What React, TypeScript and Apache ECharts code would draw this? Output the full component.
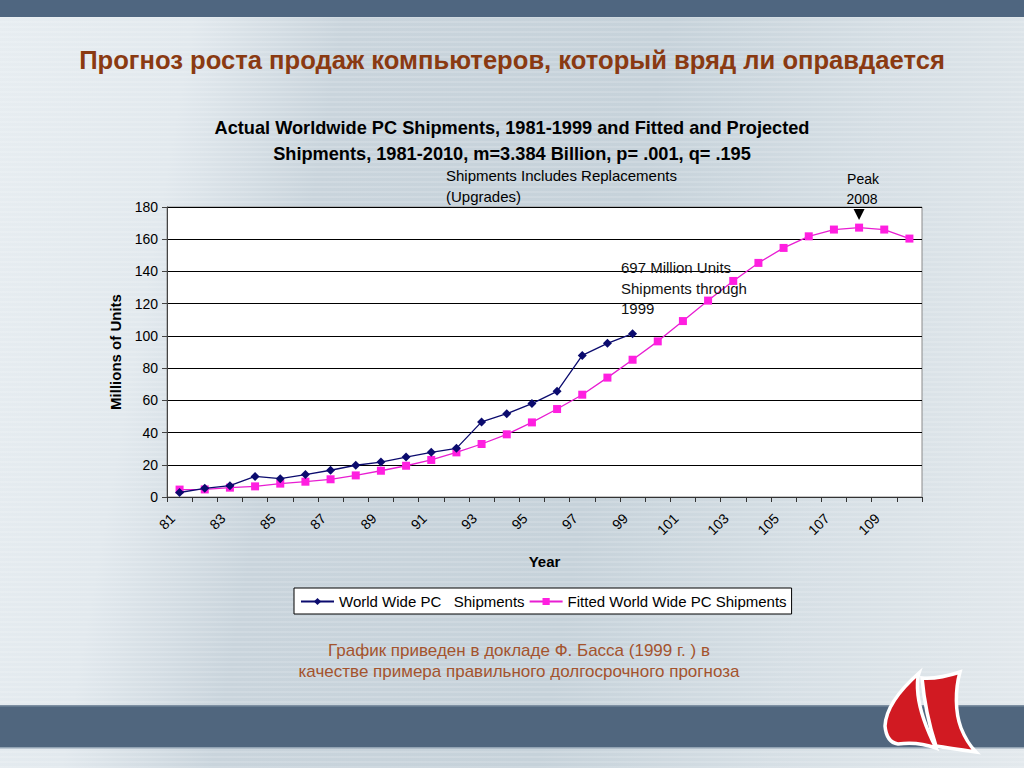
import React, { useEffect, useRef } from "react";
import * as echarts from "echarts";

const years = ["81", "82", "83", "84", "85", "86", "87", "88", "89", "90", "91", "92", "93", "94", "95", "96", "97", "98", "99", "100", "101", "102", "103", "104", "105", "106", "107", "108", "109", "110"];
const actualShipments = [2.8, 5.4, 7, 12.8, 11.4, 13.9, 16.6, 19.7, 21.7, 24.8, 27.7, 30.2, 46.6, 51.7, 58, 65.6, 87.9, 95.4, 101.4];
const fittedShipments = [4.6, 4.7, 5.8, 6.6, 8.3, 9.5, 11, 13.4, 16.3, 19.4, 23, 27.7, 32.9, 38.9, 46.3, 54.6, 63.5, 74.1, 85.2, 96.6, 109.2, 121.9, 134.1, 145.3, 154.6, 161.8, 166, 167.2, 166, 160.4];
const yTicks = { min: 0, max: 180, interval: 20 };

const seriesNames = ["World Wide PC   Shipments", "Fitted World Wide PC Shipments"];
const heading = "Прогноз роста продаж компьютеров, который вряд ли оправдается";
const chartTitle = ["Actual Worldwide PC Shipments, 1981-1999 and Fitted and Projected", "Shipments, 1981-2010, m=3.384 Billion, p= .001, q= .195"];
const note1 = ["Shipments Includes Replacements", "(Upgrades)"];
const note2 = ["697 Million Units", "Shipments through", "1999"];
const peakNote = ["Peak", "2008"];
const footer = ["График приведен в докладе Ф. Басса (1999 г. ) в", "качестве примера правильного долгосрочного прогноза"];

const SANS = '"Liberation Sans", Arial, Helvetica, sans-serif';
const NARROW = '"Liberation Sans Narrow", "Arial Narrow", "Liberation Sans", Arial, sans-serif';

const sail1 = "M919,673 C902,688 886,706 885,726 C886,737 891,743 898,744 C912,742 925,744 936,748 C927,730 920,712 918,695 C917,686 917,679 919,673 Z";
const sail2 = "M922,678 C935,679 948,676 960,672 C955,690 955,712 961,728 C965,738 970,746 976,752 C962,750 948,748 936,746 C929,725 924,700 922,678 Z";

echarts.graphic.registerShape("sailA", echarts.graphic.extendPath(sail1, {}));
echarts.graphic.registerShape("sailB", echarts.graphic.extendPath(sail2, {}));

export default function App() {
  const ref = useRef<HTMLDivElement>(null);

  useEffect(() => {
    if (!ref.current) return;
    const chart = echarts.init(ref.current, null, { renderer: "svg" });

    const txt = (x: number, y: number, text: string, font: any, extra: any = {}) => ({
      type: "text",
      x,
      y,
      z: 100,
      style: {
        text,
        fontFamily: SANS,
        fill: "#000",
        textVerticalAlign: "middle",
        ...font,
      },
      ...extra,
    });

    chart.setOption({
      animation: false,
      backgroundColor: "transparent",
      grid: {
        left: 167,
        top: 207,
        width: 755,
        height: 290,
        show: true,
        backgroundColor: "#ffffff",
        borderColor: "#8a8a8a",
        borderWidth: 1,
        containLabel: false,
      },
      legend: {
        left: 294,
        top: 588,
        orient: "horizontal",
        backgroundColor: "#ffffff",
        borderColor: "#000",
        borderWidth: 1,
        padding: [6, 5, 5, 6],
        itemGap: 4,
        itemWidth: 33,
        itemHeight: 9,
        textStyle: { fontFamily: SANS, fontSize: 15, color: "#000" },
        data: seriesNames,
      },
      xAxis: {
        type: "category",
        data: years,
        boundaryGap: true,
        name: "Year",
        nameLocation: "middle",
        nameGap: 57,
        nameTextStyle: { fontFamily: NARROW, fontWeight: "bold", fontSize: 15, color: "#000" },
        axisLine: { show: true, lineStyle: { color: "#333", width: 1 } },
        axisTick: { show: true, interval: 0, length: 5, lineStyle: { color: "#333" } },
        axisLabel: {
          interval: 1,
          rotate: 45,
          margin: 12,
          padding: [0, 10, 0, 0],
          fontFamily: SANS,
          fontSize: 14,
          color: "#000",
        },
        splitLine: { show: false },
      },
      yAxis: {
        type: "value",
        min: yTicks.min,
        max: yTicks.max,
        interval: yTicks.interval,
        name: "Millions of Units",
        nameLocation: "middle",
        nameGap: 44,
        nameRotate: 90,
        nameTextStyle: { fontFamily: SANS, fontWeight: "bold", fontSize: 15, color: "#000" },
        axisLine: { show: true, lineStyle: { color: "#444", width: 1 } },
        axisTick: { show: true, length: 5, lineStyle: { color: "#444" } },
        axisLabel: { margin: 9, fontFamily: SANS, fontSize: 14, color: "#000" },
        splitLine: { show: true, lineStyle: { color: "#000", width: 1 } },
      },
      series: [
        {
          name: seriesNames[0],
          type: "line",
          data: actualShipments,
          symbol: "diamond",
          symbolSize: 9,
          z: 4,
          itemStyle: { color: "#0b0b6e" },
          lineStyle: { color: "#0b0b6e", width: 1.3 },
        },
        {
          name: seriesNames[1],
          type: "line",
          data: fittedShipments,
          symbol: "rect",
          symbolSize: 8,
          z: 3,
          itemStyle: { color: "#ff1fe0" },
          lineStyle: { color: "#e81ed2", width: 1.3 },
          markPoint: {
            symbol: "triangle",
            symbolSize: [11, 11],
            symbolRotate: 180,
            symbolOffset: [0, -13],
            itemStyle: { color: "#000" },
            label: { show: false },
            data: [{ coord: ["108", 167.2] }],
          },
        },
      ],
      graphic: [
        { type: "rect", z: 0, shape: { x: 0, y: 0, width: 1024, height: 17 }, style: { fill: "#4f6680" } },
        { type: "rect", z: 0, shape: { x: 0, y: 706, width: 1024, height: 42 }, style: { fill: "#50667e" } },
        { type: "rect", z: 0, shape: { x: 0, y: 705, width: 1024, height: 1.5 }, style: { fill: "#7d8fa2" } },
        { type: "rect", z: 0, shape: { x: 0, y: 747, width: 1024, height: 1.5 }, style: { fill: "#93a4b4" } },
        { type: "sailA", z: 10, x: 0, y: 0, style: { fill: "#d11a22", stroke: "#ffffff", lineWidth: 3.5 } },
        { type: "sailB", z: 11, x: 0, y: 0, style: { fill: "#d11a22", stroke: "#ffffff", lineWidth: 3.5 } },
        txt(512, 60, heading, { fontFamily: NARROW, fontWeight: "bold", fontSize: 25.6, fill: "#8a3a12", textAlign: "center" }),
        txt(512, 128, chartTitle[0], { fontFamily: NARROW, fontWeight: "bold", fontSize: 18.2, textAlign: "center" }),
        txt(512, 154, chartTitle[1], { fontFamily: NARROW, fontWeight: "bold", fontSize: 18.2, textAlign: "center" }),
        txt(446, 175, note1[0], { fontFamily: NARROW, fontSize: 15 }),
        txt(446, 196, note1[1], { fontFamily: NARROW, fontSize: 15 }),
        txt(621, 267, note2[0], { fontSize: 15, fill: "#111" }),
        txt(621, 288, note2[1], { fontSize: 15, fill: "#111" }),
        txt(621, 308, note2[2], { fontSize: 15, fill: "#111" }),
        txt(863, 179, peakNote[0], { fontSize: 14, textAlign: "center" }),
        txt(862, 199, peakNote[1], { fontSize: 14, textAlign: "center" }),
        txt(519, 650, footer[0], { fontSize: 17, fill: "#a4532d", textAlign: "center" }),
        txt(519, 671, footer[1], { fontSize: 17, fill: "#a4532d", textAlign: "center" }),
      ],
    });

    return () => chart.dispose();
  }, []);

  return (
    <div
      style={{
        position: "fixed",
        left: 0,
        top: 0,
        width: 1024,
        height: 768,
        background:
          "repeating-linear-gradient(0deg, rgba(255,255,255,0.14) 0px, rgba(255,255,255,0.14) 2px, rgba(255,255,255,0) 2px, rgba(255,255,255,0) 5px), linear-gradient(100deg, #e7edf1 0%, #e2e9ee 17%, #c9d4dc 30%, #c6d2da 58%, #d6dfe5 78%, #e3e9ed 100%)",
      }}
    >
      <div ref={ref} style={{ width: 1024, height: 768 }} />
    </div>
  );
}
